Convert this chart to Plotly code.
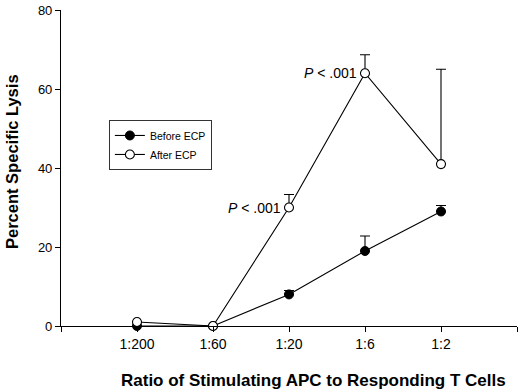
import plotly.graph_objects as go

categories = ["1:200", "1:60", "1:20", "1:6", "1:2"]
x_pos = [1, 2, 3, 4, 5]
before_ecp = [0, 0, 8, 19, 29]
before_err = [0, 0, 1, 3.8, 1.5]
after_ecp = [1, 0, 30, 64, 41]
after_err = [0, 0, 3.3, 4.7, 24]
y_ticks = [0, 20, 40, 60, 80]

FONT = "Liberation Sans, Arial, sans-serif"

fig = go.Figure()
fig.add_trace(go.Scatter(
    x=x_pos, y=before_ecp, name="Before ECP", mode="lines+markers",
    line=dict(color="black", width=1.1),
    marker=dict(symbol="circle", size=9, color="black", line=dict(color="black", width=1)),
    error_y=dict(type="data", array=before_err, arrayminus=[0]*5, symmetric=False,
                 color="black", thickness=1.1, width=5),
    cliponaxis=False,
))
fig.add_trace(go.Scatter(
    x=x_pos, y=after_ecp, name="After ECP", mode="lines+markers",
    line=dict(color="black", width=1.1),
    marker=dict(symbol="circle", size=9, color="white", line=dict(color="black", width=1.1)),
    error_y=dict(type="data", array=after_err, arrayminus=[0]*5, symmetric=False,
                 color="black", thickness=1.1, width=5),
    cliponaxis=False,
))

fig.update_layout(
    width=520, height=392,
    margin=dict(l=61, r=3, t=7, b=66),
    paper_bgcolor="white", plot_bgcolor="white",
    font=dict(family=FONT, color="black", size=13),
    showlegend=True,
    legend=dict(x=0.105, y=0.652, xanchor="left", yanchor="top",
                bordercolor="#333", borderwidth=1, bgcolor="white",
                font=dict(size=10.5, family=FONT), tracegroupgap=0,
                itemwidth=30),
    xaxis=dict(range=[0, 6], tickvals=[0] + x_pos + [6], ticktext=[""] + categories + [""],
               showgrid=False, zeroline=False, showline=True, linecolor="black", linewidth=1.1,
               ticks="outside", ticklen=5, tickcolor="black", tickwidth=1.1,
               tickfont=dict(size=14, family=FONT), ticklabeloverflow="allow"),
    yaxis=dict(range=[0, 80.02], tickvals=y_ticks, showgrid=False, zeroline=False,
               showline=True, linecolor="black", linewidth=1.1,
               ticks="outside", ticklen=5, tickcolor="black", tickwidth=1.1,
               tickfont=dict(size=13, family=FONT), ticklabeloverflow="allow"),
    annotations=[
        dict(text="<b>Percent Specific Lysis</b>", xref="paper", yref="paper",
             x=(12 - 61) / 456, y=0.519, xanchor="center", yanchor="middle", textangle=-90,
             showarrow=False, font=dict(size=16.5, family=FONT)),
        dict(text="<b>Ratio of Stimulating APC to Responding T Cells</b>", xref="paper", yref="paper",
             x=0.554, y=-0.1724, xanchor="center", yanchor="middle",
             showarrow=False, font=dict(size=17, family=FONT)),
        dict(text="<i>P</i> < .001", x=3, y=30, xref="x", yref="y", xanchor="right", yanchor="middle",
             xshift=-6, showarrow=False, font=dict(size=14, family=FONT)),
        dict(text="<i>P</i> < .001", x=4, y=64, xref="x", yref="y", xanchor="right", yanchor="middle",
             xshift=-6, showarrow=False, font=dict(size=14, family=FONT)),
    ],
)

fig.write_html("out.html", config={"displayModeBar": False},
               post_script="document.body.style.margin='0';")
